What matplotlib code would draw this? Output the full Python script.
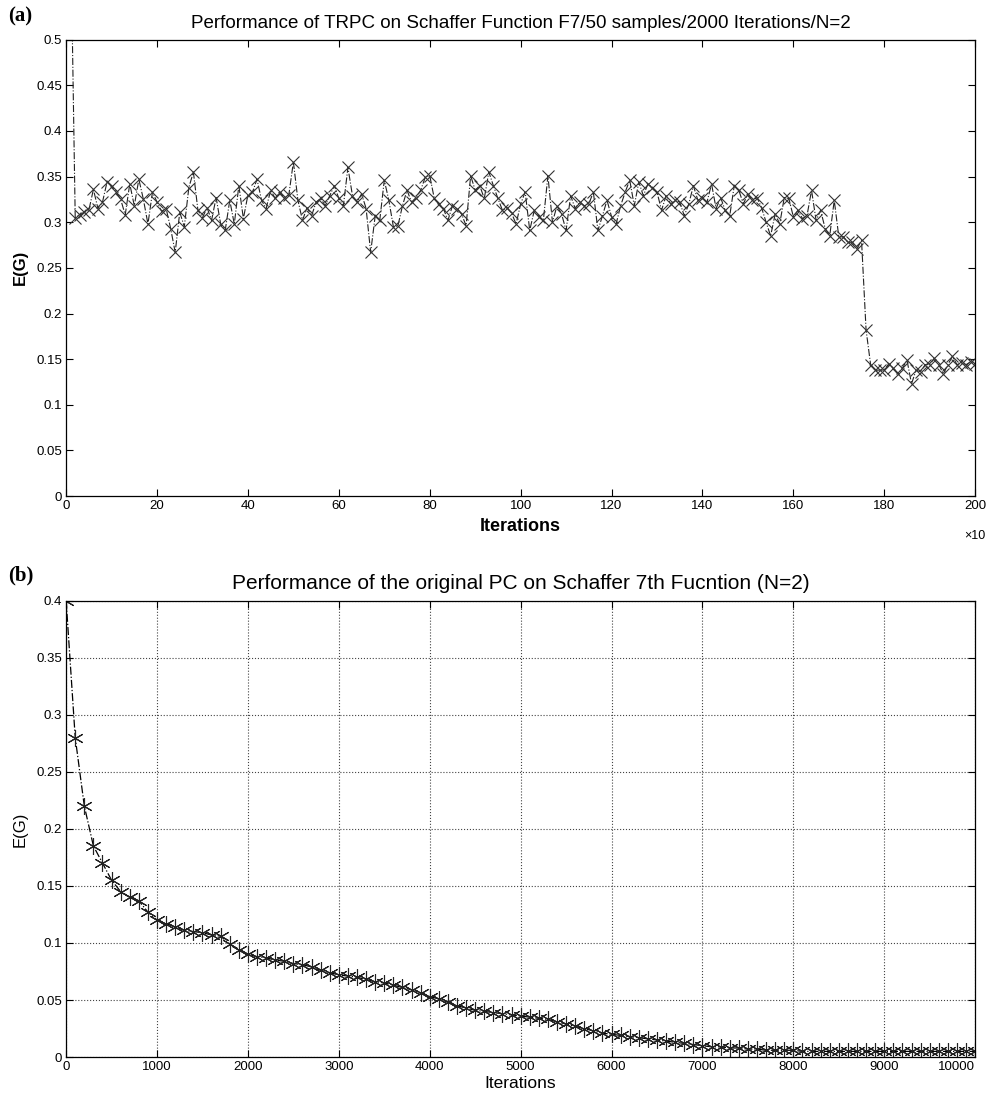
import numpy as np
import matplotlib
matplotlib.use('Agg')
import matplotlib.pyplot as plt

# panel (a): TRPC, one value per 10 iterations (x axis shown x10)
trpc_x = np.arange(1, 201)
trpc_eg = [
    0.62, 0.305, 0.308, 0.311, 0.313, 0.336, 0.315, 0.322, 0.344, 0.340,
    0.333, 0.325, 0.308, 0.342, 0.318, 0.347, 0.325, 0.298, 0.333, 0.322,
    0.312, 0.315, 0.293, 0.267, 0.311, 0.295, 0.338, 0.355, 0.313, 0.305,
    0.316, 0.302, 0.327, 0.298, 0.291, 0.324, 0.298, 0.340, 0.304, 0.330,
    0.333, 0.347, 0.324, 0.315, 0.335, 0.326, 0.333, 0.327, 0.330, 0.366,
    0.324, 0.302, 0.316, 0.307, 0.322, 0.326, 0.318, 0.329, 0.340, 0.326,
    0.318, 0.360, 0.329, 0.322, 0.331, 0.315, 0.267, 0.307, 0.302, 0.346,
    0.324, 0.295, 0.296, 0.318, 0.335, 0.322, 0.327, 0.335, 0.349, 0.351,
    0.326, 0.320, 0.315, 0.302, 0.318, 0.315, 0.309, 0.296, 0.351, 0.335,
    0.340, 0.326, 0.355, 0.340, 0.326, 0.313, 0.316, 0.310, 0.298, 0.320,
    0.333, 0.291, 0.313, 0.306, 0.302, 0.351, 0.300, 0.318, 0.309, 0.291,
    0.329, 0.315, 0.322, 0.318, 0.320, 0.333, 0.291, 0.307, 0.324, 0.306,
    0.298, 0.318, 0.333, 0.346, 0.318, 0.344, 0.329, 0.342, 0.338, 0.333,
    0.313, 0.329, 0.320, 0.324, 0.322, 0.307, 0.320, 0.340, 0.324, 0.326,
    0.322, 0.342, 0.315, 0.327, 0.313, 0.307, 0.340, 0.335, 0.320, 0.331,
    0.324, 0.327, 0.316, 0.300, 0.285, 0.309, 0.298, 0.327, 0.326, 0.306,
    0.313, 0.304, 0.307, 0.335, 0.302, 0.313, 0.293, 0.285, 0.324, 0.284,
    0.284, 0.278, 0.278, 0.271, 0.280, 0.182, 0.144, 0.138, 0.138, 0.138,
    0.145, 0.140, 0.134, 0.140, 0.149, 0.123, 0.138, 0.136, 0.144, 0.144,
    0.151, 0.144, 0.134, 0.144, 0.153, 0.144, 0.146, 0.144, 0.147, 0.145,
]

# panel (b): original PC, every 100 iterations
pc_x = np.arange(0, 10001, 100)
pc_eg = [
    0.400, 0.280, 0.220, 0.185, 0.170, 0.155, 0.145, 0.140, 0.137, 0.127, 0.120,
    0.117, 0.114, 0.111, 0.110, 0.109, 0.107, 0.106, 0.099, 0.094, 0.090,
    0.088, 0.087, 0.085, 0.084, 0.082, 0.081, 0.079, 0.076, 0.074, 0.072,
    0.071, 0.070, 0.068, 0.066, 0.065, 0.063, 0.061, 0.059, 0.056, 0.053,
    0.051, 0.048, 0.045, 0.043, 0.041, 0.040, 0.039, 0.038, 0.037, 0.036,
    0.035, 0.034, 0.033, 0.031, 0.029, 0.027, 0.025, 0.023, 0.021, 0.020,
    0.019, 0.018, 0.017, 0.016, 0.015, 0.014, 0.013, 0.012, 0.011, 0.010,
    0.009, 0.009, 0.008, 0.008, 0.007, 0.007, 0.006, 0.006, 0.006, 0.006,
    0.005, 0.005, 0.005, 0.005, 0.005, 0.005, 0.005, 0.005, 0.005, 0.005,
    0.005, 0.005, 0.005, 0.005, 0.005, 0.005, 0.005, 0.005, 0.005, 0.005,
]

top_xticks = np.arange(0, 201, 20)
top_yticks = np.arange(0, 0.501, 0.05)
bot_xticks = np.arange(0, 10001, 1000)
bot_yticks = np.arange(0, 0.401, 0.05)

narrow = ['Liberation Sans Narrow', 'Liberation Sans', 'DejaVu Sans']
plt.rcParams['font.family'] = narrow


def tick_label(v):
    return '%g' % round(v, 3)


fig = plt.figure(figsize=(9.87, 11), dpi=100)

# ---- (a)
ax1 = fig.add_axes([0.067, 0.549, 0.921, 0.415])
ax1.plot(trpc_x, trpc_eg, linestyle='-.', color='#222222', linewidth=0.8,
         marker='x', markersize=9, markeredgewidth=0.8, markeredgecolor='#333333')
ax1.set_xlim(0, 200)
ax1.set_ylim(0, 0.5)
ax1.set_xticks(top_xticks)
ax1.set_yticks(top_yticks)
ax1.set_xticklabels([tick_label(v) for v in top_xticks], fontsize=9.5)
ax1.set_yticklabels([tick_label(v) for v in top_yticks], fontsize=9.5)
ax1.tick_params(direction='in', length=5, width=0.8, top=True, right=True, pad=3)
ax1.set_title('Performance of TRPC on Schaffer Function F7/50 samples/2000 Iterations/N=2',
              fontsize=13.5, family=['Liberation Sans', 'DejaVu Sans'], pad=8)
ax1.set_xlabel('Iterations', fontsize=13, fontweight='bold', labelpad=4)
ax1.set_ylabel('E(G)', fontsize=12, fontweight='bold', labelpad=6)
ax1.text(1.0, -0.075, '\u00d710', transform=ax1.transAxes, fontsize=9,
         ha='center', va='top')
for sp in ax1.spines.values():
    sp.set_linewidth(0.9)

# ---- (b)
ax2 = fig.add_axes([0.067, 0.039, 0.921, 0.415])
ax2.plot(pc_x, pc_eg, linestyle='-.', color='black', linewidth=0.9,
         marker=(6, 2, 0), markersize=12, markeredgewidth=0.8,
         markeredgecolor='#222222')
ax2.set_xlim(0, 10000)
ax2.set_ylim(0, 0.4)
ax2.set_xticks(bot_xticks)
ax2.set_yticks(bot_yticks)
xl = ax2.set_xticklabels([tick_label(v) for v in bot_xticks], fontsize=9.5)
xl[-1].set_horizontalalignment('right')
ax2.set_yticklabels([tick_label(v) for v in bot_yticks], fontsize=9.5)
ax2.tick_params(direction='in', length=5, width=0.8, top=True, right=True, pad=3)
ax2.grid(True, linestyle=':', color='#444444', linewidth=0.8)
ax2.set_title('Performance of the original PC on Schaffer 7th Fucntion (N=2)',
              fontsize=15, family=['Liberation Sans', 'DejaVu Sans'], pad=8)
ax2.set_xlabel('Iterations', fontsize=12.5, labelpad=2)
ax2.set_ylabel('E(G)', fontsize=12, labelpad=6)
for sp in ax2.spines.values():
    sp.set_linewidth(0.9)

# panel letters
fig.text(0.008, 0.985, '(a)', fontsize=15, fontweight='bold',
         family=['Liberation Serif', 'DejaVu Serif'], va='center')
fig.text(0.008, 0.477, '(b)', fontsize=15, fontweight='bold',
         family=['Liberation Serif', 'DejaVu Serif'], va='center')

fig.savefig('out.png', dpi=100)
